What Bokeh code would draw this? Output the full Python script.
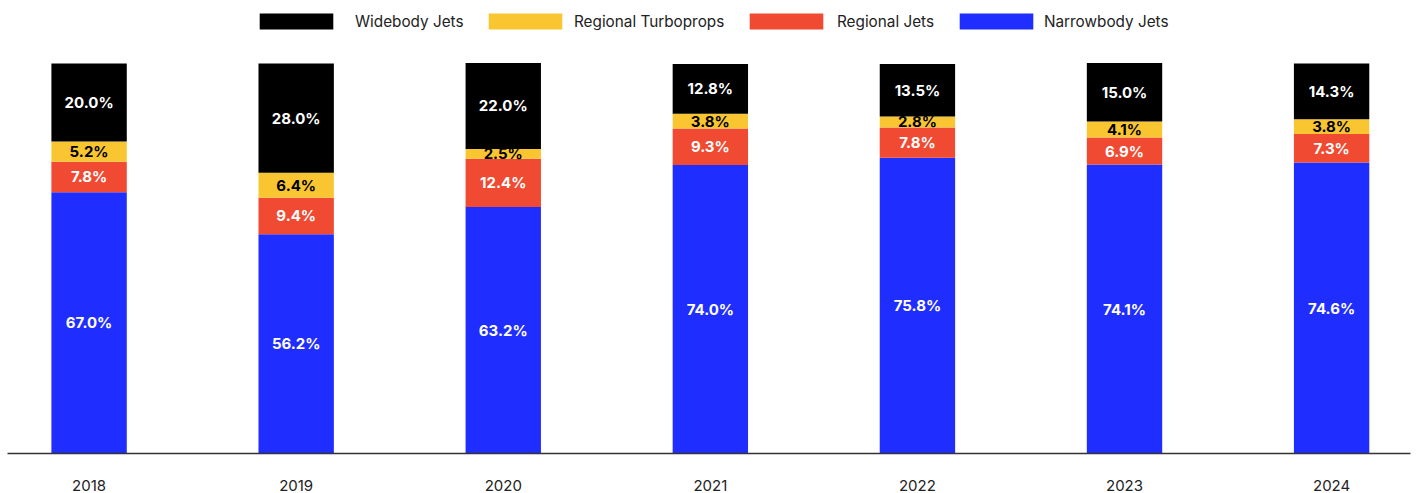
import numpy as np
from bokeh.plotting import figure
from bokeh.models import ColumnDataSource, Range1d, FixedTicker, Legend, LegendItem
from bokeh.core.properties import value
from bokeh.embed import file_html
from bokeh.resources import INLINE

years = ["2018", "2019", "2020", "2021", "2022", "2023", "2024"]
narrowbody = [67.0, 56.2, 63.2, 74.0, 75.8, 74.1, 74.6]
regional_jets = [7.8, 9.4, 12.4, 9.3, 7.8, 6.9, 7.3]
regional_turboprops = [5.2, 6.4, 2.5, 3.8, 2.8, 4.1, 3.8]
widebody = [20.0, 28.0, 22.0, 12.8, 13.5, 15.0, 14.3]

series = [
    ("Narrowbody Jets", narrowbody, "#1F2EFF", "white"),
    ("Regional Jets", regional_jets, "#F04A32", "white"),
    ("Regional Turboprops", regional_turboprops, "#F9C632", "black"),
    ("Widebody Jets", widebody, "#000000", "white"),
]

FONT = "Inter"
x = np.arange(len(years))
FRAME_H = 493 - 40
LEG_H = 20

p = figure(width=1417, height=493, output_backend="svg", toolbar_location=None,
           x_range=Range1d(-0.394, 6.381), y_range=Range1d(0, 116.15),
           min_border=0, min_border_left=7, min_border_right=7,
           min_border_top=0, min_border_bottom=40)
p.outline_line_color = None
p.xgrid.visible = False
p.ygrid.visible = False
p.yaxis.visible = False

bottom = np.zeros(len(years))
renderers = {}
for name, vals, color, tcolor in series:
    vals = np.array(vals)
    top = bottom + vals
    src = ColumnDataSource(dict(x=x, bottom=bottom, top=top,
                                mid=(bottom + top) / 2,
                                label=[f"{v:.1f}%" for v in vals]))
    r = p.vbar(x="x", bottom="bottom", top="top", width=0.364, source=src,
               fill_color=color, line_color=None)
    renderers[name] = r
    p.text(x="x", y="mid", text="label", source=src, text_align="center",
           text_baseline="middle", text_color=tcolor, text_font=value(FONT),
           text_font_size="15px", text_font_style="bold")
    bottom = top

# legend entries: (name, left position of legend box in frame px, label standoff)
legend_layout = [
    ("Widebody Jets", 243, 13),
    ("Regional Turboprops", 472, 3),
    ("Regional Jets", 733, 5),
    ("Narrowbody Jets", 943, 2),
]
for name, lx, standoff in legend_layout:
    lg = Legend(items=[LegendItem(label=name, renderers=[renderers[name]])],
                orientation="horizontal", location=(lx, FRAME_H - 11 - LEG_H),
                glyph_width=92, glyph_height=LEG_H, label_height=LEG_H,
                label_standoff=standoff, spacing=0, padding=0, margin=0,
                border_line_color=None, background_fill_alpha=0,
                label_text_font=FONT, label_text_font_size="15.3px",
                label_text_color="#222222")
    p.add_layout(lg, "center")

p.xaxis.ticker = FixedTicker(ticks=list(x))
p.xaxis.major_label_overrides = {int(i): y for i, y in zip(x, years)}
p.xaxis.major_tick_line_color = None
p.xaxis.minor_tick_line_color = None
p.xaxis.axis_line_color = "#333333"
p.xaxis.axis_line_width = 1.5
p.xaxis.major_label_standoff = 20
p.xaxis.major_label_text_font = FONT
p.xaxis.major_label_text_font_size = "15px"
p.xaxis.major_label_text_color = "#222222"

open("out.html", "w").write(file_html(p, INLINE))
